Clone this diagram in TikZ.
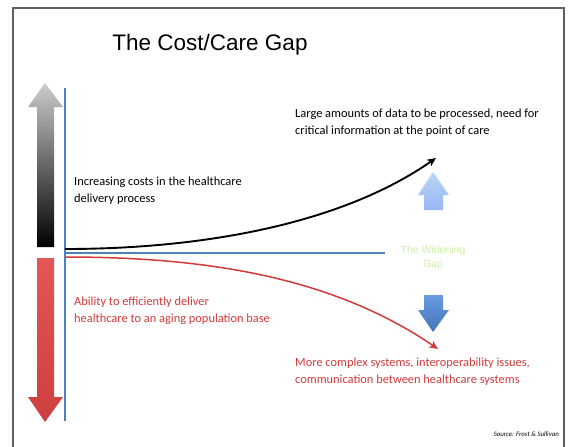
\documentclass[tikz,border=0pt]{standalone}
\usepackage{fontspec}
\setmainfont{Carlito}
\newfontfamily\arialfont{Liberation Sans}
\usetikzlibrary{arrows.meta}
\definecolor{axisblue}{HTML}{4F81BD}
\definecolor{careRed}{HTML}{D23A3A}
\definecolor{arrowRed}{HTML}{E04444}
\definecolor{gapGreen}{HTML}{CDEFA6}
\definecolor{upBlue}{HTML}{A9CBF2}
\definecolor{downBlue}{HTML}{4F89DA}
\begin{document}
\begin{tikzpicture}
    [x=1pt,y=-1pt,
     label/.style={inner sep=0pt,anchor=west,align=left,font=\fontsize{12.4}{16.8}\selectfont},
     curve/.style={line width=1.9pt,-{Stealth[length=9pt,width=8pt]}}]
    \useasboundingbox (0,0) rectangle (568,447);
    % frame
    \draw[gray!75!black,line width=2pt] (13,447) -- (13,8) -- (564,8) -- (564,447);

    \node[font=\arialfont\fontsize{22.5}{26}\selectfont] (title) at (210,45) {The Cost/Care Gap};

    % cost arrow (up) and care arrow (down)
    \shade[top color=black!20,bottom color=black] (45,83) -- (63,107) -- (54,107) -- (54,247)
      -- (37,247) -- (37,107) -- (28,107) -- cycle;
    \shade[top color=arrowRed!90!white,bottom color=arrowRed!92!black] (37,258) -- (54,258) -- (54,397)
      -- (63,397) -- (45,422) -- (28,397) -- (37,397) -- cycle;

    % axes
    \coordinate (top) at (65,88);
    \coordinate (bottom) at (65,421);
    \coordinate (gapEnd) at (385,253);
    \draw[axisblue,line width=1.4pt] (top) -- (bottom);
    \draw[axisblue,line width=1.4pt] (65,253) -- (gapEnd);

    % cost and care curves
    \coordinate (costStart) at (65,249);
    \coordinate (costEnd) at (436,158);
    \coordinate (careStart) at (65,257);
    \coordinate (careEnd) at (438,349);
    \draw[curve,black] (costStart) .. controls (200,249) and (340,225) .. (costEnd);
    \draw[curve,careRed,line width=1.5pt] (careStart) .. controls (200,257) and (330,275) .. (careEnd);

    % widening gap arrows
    \shade[top color=upBlue!80!white,bottom color=upBlue!90!blue]
      (433,172) -- (449,195) -- (443,195) -- (443,210) -- (424,210) -- (424,195) -- (418,195) -- cycle;
    \shade[top color=downBlue!85!white,bottom color=downBlue!85!black]
      (424,295) -- (443,295) -- (443,310) -- (449,310) -- (433,332) -- (418,310) -- (424,310) -- cycle;
    \node[font=\arialfont\fontsize{10.5}{14}\selectfont,text=gapGreen,align=center] (gap) at (433,258)
      {The Widening\\Gap};

    \node[label] (data) at (295,123) {Large amounts of data to be processed, need for\\critical information at the point of care};
    \node[label] (cost) at (74,191) {Increasing costs in the healthcare\\delivery process};
    \node[label,text=careRed] (care) at (74,311) {Ability to efficiently deliver\\healthcare to an aging population base};
    \node[label,text=careRed] (complex) at (295,372) {More complex systems, interoperability issues,\\communication between healthcare systems};

    \node[inner sep=0pt,anchor=east,font=\fontsize{6.8}{7}\itshape] (source) at (559,434) {Source: Frost \& Sullivan};
\end{tikzpicture}
\end{document}
